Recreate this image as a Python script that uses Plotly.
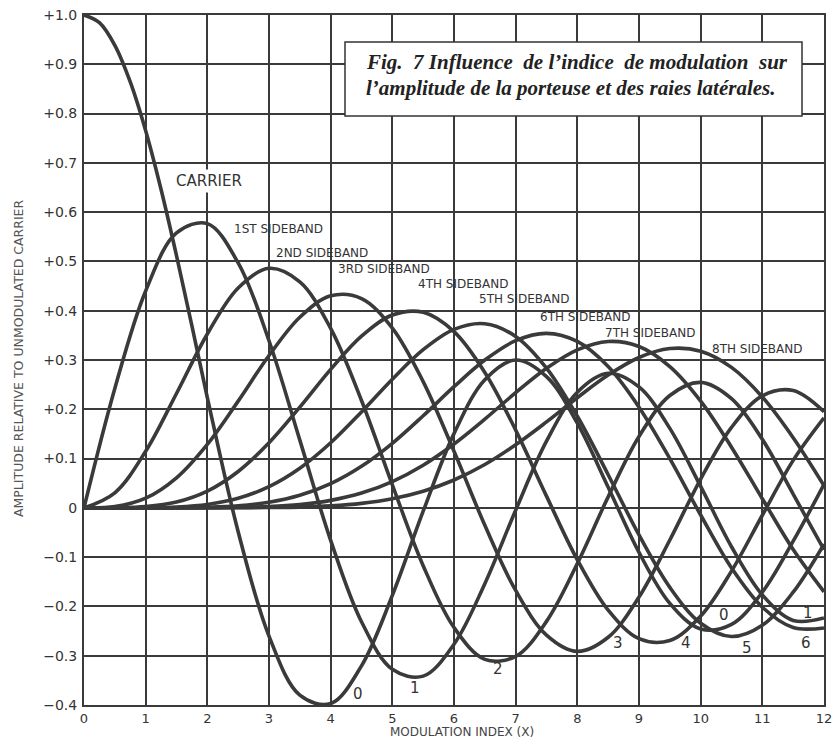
import plotly.graph_objects as go

# ---- data (amplitude vs modulation index) ----
x_index = [0, 0.5, 1, 1.5, 2, 2.5, 3, 3.5, 4, 4.5, 5, 5.5, 6, 6.5, 7, 7.5, 8, 8.5, 9, 9.5, 10, 10.5, 11, 11.5, 12]
x_carrier = [0, 0.25, 0.5, 0.75, 1, 1.25, 1.5, 1.75, 2, 2.5, 3, 3.5, 4, 4.5, 5, 5.5, 6, 6.5, 7, 7.5, 8, 8.5, 9, 9.5,
             10, 10.5, 11, 11.5, 12]

carrier = [1.0, 0.9844, 0.9385, 0.8642, 0.7652, 0.6459, 0.5118, 0.3690, 0.2239, -0.0484, -0.2601, -0.3801, -0.3971,
           -0.3205, -0.1776, -0.0068, 0.1506, 0.2601, 0.3001, 0.2663, 0.1717, 0.0419, -0.0903, -0.1939, -0.2459,
           -0.2366, -0.1712, -0.0677, 0.0477]
sb1 = [0.0, 0.2423, 0.4401, 0.5579, 0.5767, 0.4971, 0.3391, 0.1374, -0.0660, -0.2311, -0.3276, -0.3414, -0.2767,
       -0.1538, -0.0047, 0.1352, 0.2346, 0.2731, 0.2453, 0.1613, 0.0435, -0.0789, -0.1768, -0.2284, -0.2234]
sb2 = [0.0, 0.0306, 0.1149, 0.2321, 0.3528, 0.4461, 0.4861, 0.4586, 0.3641, 0.2178, 0.0466, -0.1173, -0.2429,
       -0.3074, -0.3014, -0.2303, -0.1130, 0.0223, 0.1448, 0.2279, 0.2546, 0.2216, 0.1390, 0.0279, -0.0849]
sb3 = [0.0, 0.0026, 0.0196, 0.0610, 0.1289, 0.2166, 0.3091, 0.3868, 0.4302, 0.4247, 0.3648, 0.2561, 0.1148,
       -0.0353, -0.1676, -0.2581, -0.2911, -0.2626, -0.1809, -0.0653, 0.0584, 0.1633, 0.2273, 0.2381, 0.1951]
sb4 = [0.0, 0.0002, 0.0025, 0.0118, 0.0340, 0.0738, 0.1320, 0.2044, 0.2811, 0.3484, 0.3912, 0.3967, 0.3576,
       0.2748, 0.1578, 0.0238, -0.1054, -0.2077, -0.2655, -0.2691, -0.2196, -0.1283, -0.0150, 0.0963, 0.1825]
sb5 = [0.0, 0.0, 0.0002, 0.0018, 0.0070, 0.0195, 0.0430, 0.0804, 0.1321, 0.1947, 0.2611, 0.3209, 0.3621,
       0.3736, 0.3479, 0.2835, 0.1858, 0.0672, -0.0550, -0.1613, -0.2341, -0.2611, -0.2383, -0.1711, -0.0735]
sb6 = [0.0, 0.0, 0.0, 0.0002, 0.0012, 0.0042, 0.0114, 0.0254, 0.0491, 0.0843, 0.1310, 0.1868, 0.2458,
       0.2999, 0.3392, 0.3541, 0.3376, 0.2867, 0.2043, 0.0999, -0.0145, -0.1220, -0.2016, -0.2428, -0.2437]
sb7 = [0.0, 0.0, 0.0, 0.0, 0.0002, 0.0008, 0.0025, 0.0067, 0.0152, 0.0300, 0.0534, 0.0866, 0.1296,
       0.1801, 0.2336, 0.2832, 0.3206, 0.3376, 0.3275, 0.2868, 0.2167, 0.1231, 0.0184, -0.0846, -0.1703]
sb8 = [0.0, 0.0, 0.0, 0.0, 0.0, 0.0001, 0.0006, 0.0015, 0.0040, 0.0091, 0.0184, 0.0337, 0.0565,
       0.0880, 0.1280, 0.1744, 0.2235, 0.2694, 0.3051, 0.3232, 0.3179, 0.2850, 0.2250, 0.1424, 0.0451]

sidebands = [sb1, sb2, sb3, sb4, sb5, sb6, sb7, sb8]

curve_labels = ["CARRIER", "1ST SIDEBAND", "2ND SIDEBAND", "3RD SIDEBAND", "4TH SIDEBAND",
                "5TH SIDEBAND", "6TH SIDEBAND", "7TH SIDEBAND", "8TH SIDEBAND"]
curve_label_x = [1.44, 2.42, 3.10, 4.10, 5.40, 6.39, 7.38, 8.43, 10.17]
curve_label_y = [0.663, 0.566, 0.517, 0.485, 0.454, 0.424, 0.387, 0.355, 0.322]

trough_labels = ["0", "1", "2", "3", "4", "5", "6", "0", "1"]
trough_x = [4.45, 5.36, 6.72, 8.66, 9.76, 10.75, 11.71, 10.38, 11.74]
trough_y = [-0.378, -0.366, -0.327, -0.274, -0.274, -0.284, -0.274, -0.217, -0.213]

x_ticks = list(range(0, 13))
y_ticks = [1.0, 0.9, 0.8, 0.7, 0.6, 0.5, 0.4, 0.3, 0.2, 0.1, 0.0, -0.1, -0.2, -0.3, -0.4]
y_ticktext = ["+1.0", "+0.9", "+0.8", "+0.7", "+0.6", "+0.5", "+0.4", "+0.3", "+0.2", "+0.1", "0",
              "\u22120.1", "\u22120.2", "\u22120.3", "\u22120.4"]

NB = "\u00a0"
title_lines = ["Fig." + NB + " 7 Influence" + NB + " de l\u2019indice" + NB + " de modulation" + NB + " sur",
               "l\u2019amplitude de la porteuse et des raies lat\u00e9rales."]

INK = "#3a3a3a"
SANS = "DejaVu Sans"

# full-window figure (page body margin removed below); plot area at x 84..824, y 15..705
W, H = 838, 747
L, T, R, B = 84, 15, 14, 42
PW, PH = W - L - R, H - T - B


def px(xp):  # screen pixel x -> paper
    return (xp - L) / PW


def py(yp):  # screen pixel y -> paper
    return (H - B - yp) / PH


fig = go.Figure()
fig.add_trace(go.Scatter(x=x_carrier, y=carrier, mode="lines", name="CARRIER",
                         line=dict(color=INK, width=3.6, shape="spline", smoothing=1.0),
                         showlegend=False, hoverinfo="skip"))
for name, ys in zip(curve_labels[1:], sidebands):
    fig.add_trace(go.Scatter(x=x_index, y=ys, mode="lines", name=name,
                             line=dict(color=INK, width=3.6, shape="spline", smoothing=1.0),
                             showlegend=False, hoverinfo="skip"))

for i, (t, lx, ly) in enumerate(zip(curve_labels, curve_label_x, curve_label_y)):
    big = (i == 0)
    fig.add_annotation(x=lx, y=ly, text=t, showarrow=False, xanchor="left", yanchor="middle",
                       font=dict(family=SANS, size=15 if big else 12, color="#333"),
                       bgcolor="white" if big else None, borderpad=2 if big else 0)

for t, lx, ly in zip(trough_labels, trough_x, trough_y):
    fig.add_annotation(x=lx, y=ly, text=t, showarrow=False, xanchor="center", yanchor="middle",
                       font=dict(family=SANS, size=15, color="#333"))

# title box
fig.add_shape(type="rect", xref="paper", yref="paper", x0=px(345), x1=px(802), y0=py(116), y1=py(42),
              line=dict(color="#333", width=1.5), fillcolor="white", layer="above")
for line_text, yc in zip(title_lines, [62, 88]):
    fig.add_annotation(xref="paper", yref="paper", x=px(364), y=py(yc), xanchor="left", yanchor="middle",
                       text="<b><i>" + line_text + "</i></b>", showarrow=False, align="left",
                       font=dict(family="Liberation Serif", size=21, color="#222"))

# axis titles
fig.add_annotation(xref="paper", yref="paper", x=px(462), y=py(732),
                   text="MODULATION INDEX (X)", showarrow=False, xanchor="center", yanchor="middle",
                   font=dict(family=SANS, size=12, color="#444"))
fig.add_annotation(xref="paper", yref="paper", x=px(18), y=py(358), textangle=-90,
                   text="AMPLITUDE RELATIVE TO UNMODULATED CARRIER", showarrow=False,
                   xanchor="center", yanchor="middle",
                   font=dict(family=SANS, size=12.5, color="#555"))

fig.update_xaxes(range=[0, 12], tickvals=x_ticks, ticktext=[str(v) for v in x_ticks],
                 showgrid=True, gridcolor=INK, gridwidth=2, zeroline=False,
                 showline=True, linecolor=INK, linewidth=2, mirror=True, automargin=False,
                 ticks="", ticklabelstandoff=0, ticklabeloverflow="allow",
                 tickfont=dict(family=SANS, size=13, color="#333"))
fig.update_yaxes(range=[-0.4, 1.0], tickvals=y_ticks, ticktext=y_ticktext,
                 showgrid=True, gridcolor=INK, gridwidth=2, zeroline=True, zerolinecolor=INK, zerolinewidth=2,
                 showline=True, linecolor=INK, linewidth=2, mirror=True, automargin=False,
                 ticks="", ticklabelstandoff=2, ticklabeloverflow="allow",
                 tickfont=dict(family=SANS, size=14, color="#333"))

fig.update_layout(width=W, height=H, margin=dict(l=L, r=R, t=T, b=B, autoexpand=False),
                  plot_bgcolor="white", paper_bgcolor="white", showlegend=False)

fig.write_html("out.html", config={"displayModeBar": False},
               post_script="document.body.style.margin='0';document.body.style.overflow='hidden';")
